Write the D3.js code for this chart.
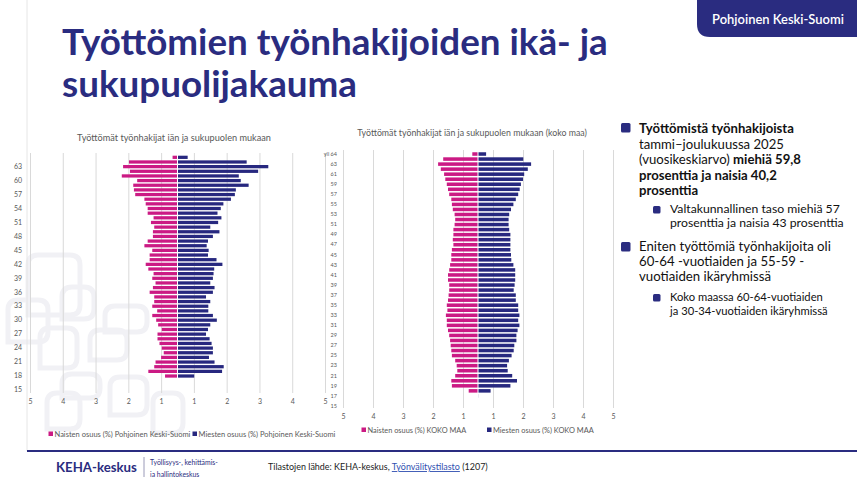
<!DOCTYPE html>
<html>
<head>
<meta charset="utf-8">
<script src="https://cdn.jsdelivr.net/npm/d3@7"></script>
<style>
html, body { margin: 0; padding: 0; background: #fff; }
svg { display: block; font-family: Lato, "Open Sans", sans-serif; }
</style>
</head>
<body>
<svg id="slide" width="857" height="477"></svg>
<script>
// age groups, bottom -> top
var ages = ["15","16","17","18","19","20","21","22","23","24","25","26","27","28","29",
  "30","31","32","33","34","35","36","37","38","39","40","41","42","43","44",
  "45","46","47","48","49","50","51","52","53","54","55","56","57","58","59",
  "60","61","62","63","64","yli 64"];

// share (%) of all unemployed jobseekers, Pohjoinen Keski-Suomi
var naisetPKS = [0,0,0,0.38,0.89,0.71,0.67,0.50,0.42,0.48,0.55,0.61,0.61,0.48,0.59,
  0.65,0.77,0.62,0.77,0.71,0.71,0.85,0.75,0.67,0.77,0.73,0.89,0.97,0.85,0.85,
  0.77,1.01,0.91,0.75,0.75,0.71,0.81,0.73,0.91,0.91,0.97,1.01,1.29,1.33,1.35,
  1.23,1.70,1.45,1.66,1.48,0.15];
var miehetPKS = [0,0,0,0.51,1.36,1.41,1.13,0.96,1.08,1.08,1.04,0.98,0.87,0.93,1.00,
  1.20,1.08,0.94,0.94,1.00,0.87,1.08,1.13,1.00,1.08,1.10,1.12,1.37,1.19,0.93,
  0.95,0.89,0.93,1.08,1.28,1.00,1.24,1.34,1.22,1.32,1.40,1.63,1.75,1.78,2.17,
  1.93,1.87,2.46,2.77,2.11,0.31];

// share (%), koko maa
var naisetKoko = [0,0,0,0.31,0.87,0.89,0.76,0.69,0.71,0.76,0.87,0.89,0.91,0.93,0.96,
  1.00,1.04,1.04,1.07,1.02,1.04,1.00,0.98,0.96,0.96,1.00,1.00,0.96,0.93,0.89,
  0.89,0.87,0.82,0.84,0.82,0.82,0.78,0.76,0.78,0.84,0.87,0.89,0.96,1.00,1.04,
  1.09,1.13,1.24,1.33,1.16,0.19];
var miehetKoko = [0,0,0.02,0.42,1.08,1.30,1.14,0.99,0.97,1.03,1.12,1.19,1.21,1.28,1.28,
  1.32,1.38,1.34,1.38,1.34,1.34,1.26,1.26,1.19,1.22,1.24,1.24,1.24,1.18,1.11,
  1.10,1.08,1.08,1.08,1.08,1.04,1.02,1.02,1.04,1.10,1.18,1.26,1.34,1.39,1.43,
  1.50,1.54,1.66,1.77,1.51,0.27];

var gridValues = [-4.5,-3.5,-2.5,-1.5,-0.5,0.5,1.5,2.5,3.5,4.5];
var tickLabels = ["5","4","3","2","1","1","2","3","4","5"];

var NAVY = '#2a2c80', PINK = '#cb1a84', MEN = '#27287f', GREY = '#595959';

var svg = d3.select('#slide');
svg.append('rect').attr('width', 857).attr('height', 477).attr('fill', '#fff');

// shrink/grow font so the text gets the width it has on the slide
function fit(sel, w) {
  var fs = parseFloat(sel.style('font-size'));
  var len = sel.node().getComputedTextLength();
  if (len > 0) sel.style('font-size', (fs * w / len) + 'px');
  return sel;
}

//watermark shapes in the lower left
var leafs = [[28,255,52,60],[62,287,32,32],[40,328,37,40],[90,330,37,30],[105,306,42,26],
  [47,393,33,36],[110,377,37,38],[62,374,38,24],[153,393,30,40],[8,300,40,42]];
svg.append('g').selectAll('path').data(leafs).join('path')
  .attr('d', function(d) {
    var x = d[0], y = d[1], w = d[2], h = d[3], r = 10;
    return 'M' + x + ',' + (y + h) + 'V' + (y + r) + 'Q' + x + ',' + y + ' ' + (x + r) + ',' + y +
      'H' + (x + w - r) + 'Q' + (x + w) + ',' + y + ' ' + (x + w) + ',' + (y + r) +
      'V' + (y + h - r) + 'Q' + (x + w) + ',' + (y + h) + ' ' + (x + w - r) + ',' + (y + h) + 'Z';
  })
  .attr('fill', 'none').attr('stroke', '#f1f1f5').attr('stroke-width', 5);

// frame lines
svg.append('line').attr('x1', 27).attr('x2', 27).attr('y1', 0).attr('y2', 451)
  .attr('stroke', '#e6e6e6').attr('stroke-width', 1);
svg.append('line').attr('x1', 27).attr('x2', 857).attr('y1', 451).attr('y2', 451)
  .attr('stroke', NAVY).attr('stroke-width', 2);

// title
var t1 = svg.append('text').attr('x', 62).attr('y', 55).attr('fill', NAVY)
  .style('font-weight', 700).style('font-size', '34px').text('Työttömien työnhakijoiden ikä- ja');
fit(t1, 546);
svg.append('text').attr('x', 62).attr('y', 97).attr('fill', NAVY)
  .style('font-weight', 700).style('font-size', t1.style('font-size')).text('sukupuolijakauma');

// region badge
svg.append('path').attr('d', 'M697,0H857V37H710Q697,37 697,24Z').attr('fill', NAVY);
fit(svg.append('text').attr('x', 778).attr('y', 24).attr('text-anchor', 'middle').attr('fill', '#fff')
  .style('font-weight', 600).style('font-size', '12px').text('Pohjoinen Keski-Suomi'), 132);

function pyramid(o) {
  var g = svg.append('g');
  var x = d3.scaleLinear().domain([-4.5, 4.5]).range([o.x0, o.x1]);
  var y = d3.scaleBand().domain(ages).range([o.yBottom, o.yTop]).paddingInner(0.3).paddingOuter(0.15);

  g.append('g').attr('transform', 'translate(0,' + o.gridBottom + ')')
    .call(d3.axisBottom(x).tickValues(gridValues).tickFormat(function(d, i) { return tickLabels[i]; })
      .tickSize(-(o.gridBottom - o.gridTop)).tickPadding(o.tickPad))
    .call(function(a) {
      a.select('.domain').remove();
      a.selectAll('line').attr('stroke', '#d9d9d9');
      a.selectAll('text').attr('fill', GREY).style('font-size', '7px').style('font-family', 'Lato, sans-serif');
    });

  g.append('g').attr('transform', 'translate(' + o.labelX + ',0)')
    .call(d3.axisLeft(y).tickValues(ages.filter(function(d, i) { return i % o.every == 0; }))
      .tickSize(0).tickPadding(0))
    .call(function(a) {
      a.select('.domain').remove();
      a.selectAll('text').attr('fill', GREY).style('font-size', o.labelSize + 'px').style('font-family', 'Lato, sans-serif');
    });

  g.append('g').selectAll('rect').data(o.women).join('rect')
    .attr('x', function(d) { return x(-d); })
    .attr('width', function(d) { return Math.max(0, x(0) - x(-d) - 0.5); })
    .attr('y', function(d, i) { return y(ages[i]); })
    .attr('height', y.bandwidth())
    .attr('fill', PINK);
  g.append('g').selectAll('rect').data(o.men).join('rect')
    .attr('x', x(0) + 0.5)
    .attr('width', function(d) { return Math.max(0, x(d) - x(0) - 0.5); })
    .attr('y', function(d, i) { return y(ages[i]); })
    .attr('height', y.bandwidth())
    .attr('fill', MEN);

  fit(g.append('text').attr('x', o.titleX).attr('y', o.titleY).attr('text-anchor', 'middle')
    .attr('fill', GREY).style('font-size', '8.5px').text(o.title), o.titleW);

  o.legend.forEach(function(l) {
    g.append('rect').attr('x', l.x).attr('y', o.legendY - 2.5).attr('width', 4.5).attr('height', 4.5).attr('fill', l.c);
    fit(g.append('text').attr('x', l.x + 6).attr('y', o.legendY + 2.5).attr('fill', GREY)
      .style('font-size', '7.5px').text(l.t), l.w);
  });
}

pyramid({
  x0: 30, x1: 325, yBottom: 392.3, yTop: 155, gridTop: 153, gridBottom: 393, tickPad: 6,
  labelX: 22, every: 3, labelSize: 7,
  women: naisetPKS, men: miehetPKS,
  title: 'Työttömät työnhakijat iän ja sukupuolen mukaan', titleX: 174, titleY: 140.5, titleW: 194,
  legendY: 434,
  legend: [{x: 48.5, c: PINK, t: 'Naisten osuus (%) Pohjoinen Keski-Suomi', w: 136},
           {x: 192.5, c: MEN, t: 'Miesten osuus (%) Pohjoinen Keski-Suomi', w: 137}]
});

pyramid({
  x0: 343, x1: 613, yBottom: 408.5, yTop: 151.5, gridTop: 150, gridBottom: 408, tickPad: 6,
  labelX: 337, every: 2, labelSize: 5.5,
  women: naisetKoko, men: miehetKoko,
  title: 'Työttömät työnhakijat iän ja sukupuolen mukaan (koko maa)', titleX: 472, titleY: 136, titleW: 230,
  legendY: 430,
  legend: [{x: 361.5, c: PINK, t: 'Naisten osuus (%)  KOKO MAA', w: 99},
           {x: 487, c: MEN, t: 'Miesten osuus (%)  KOKO MAA', w: 101}]
});

// bullet text on the right
var notes = svg.append('g').attr('fill', '#111');
function bullet(x, y, s) {
  notes.append('rect').attr('x', x).attr('y', y).attr('width', s).attr('height', s).attr('rx', 1.5).attr('fill', NAVY);
}
bullet(621, 123, 9.5);
var l1 = notes.append('text').attr('x', 639).attr('y', 133).style('font-size', '14px').style('font-weight', 700)
  .text('Työttömistä työnhakijoista');
fit(l1, 155);
var fs1 = l1.style('font-size');
notes.append('text').attr('x', 639).attr('y', 148.5).style('font-size', fs1).text('tammi–joulukuussa 2025');
var l3 = notes.append('text').attr('x', 639).attr('y', 164).style('font-size', fs1);
l3.append('tspan').text('(vuosikeskiarvo) ');
l3.append('tspan').style('font-weight', 700).text('miehiä 59,8');
notes.append('text').attr('x', 639).attr('y', 179.5).style('font-size', fs1).style('font-weight', 700).text('prosenttia ja naisia 40,2');
notes.append('text').attr('x', 639).attr('y', 195).style('font-size', fs1).style('font-weight', 700).text('prosenttia');

bullet(653, 206, 7.5);
var s1 = notes.append('text').attr('x', 670).attr('y', 212.5).style('font-size', '11px').text('Valtakunnallinen taso miehiä 57');
fit(s1, 170);
notes.append('text').attr('x', 670).attr('y', 226.5).style('font-size', s1.style('font-size')).text('prosenttia ja naisia 43 prosenttia');

bullet(621, 242, 9.5);
var e1 = notes.append('text').attr('x', 639).attr('y', 251).style('font-size', '14px').text('Eniten työttömiä työnhakijoita oli');
fit(e1, 192);
notes.append('text').attr('x', 639).attr('y', 266).style('font-size', e1.style('font-size')).text('60-64 -vuotiaiden ja 55-59 -');
notes.append('text').attr('x', 639).attr('y', 281).style('font-size', e1.style('font-size')).text('vuotiaiden ikäryhmissä');

bullet(653, 294, 7.5);
var k1 = notes.append('text').attr('x', 670).attr('y', 301).style('font-size', '11px').text('Koko maassa 60-64-vuotiaiden');
fit(k1, 153);
notes.append('text').attr('x', 670).attr('y', 314.5).style('font-size', k1.style('font-size')).text('ja 30-34-vuotiaiden ikäryhmissä');

// footer
fit(svg.append('text').attr('x', 56).attr('y', 472).attr('fill', NAVY).style('font-weight', 700)
  .style('font-size', '13px').text('KEHA-keskus'), 81);
svg.append('line').attr('x1', 144).attr('x2', 144).attr('y1', 457).attr('y2', 477).attr('stroke', '#9a9ab8');
var f1 = svg.append('text').attr('x', 150).attr('y', 465).attr('fill', NAVY).style('font-size', '8.5px')
  .text('Työllisyys-, kehittämis-');
fit(f1, 68);
svg.append('text').attr('x', 150).attr('y', 476.5).attr('fill', NAVY).style('font-size', f1.style('font-size')).text('ja hallintokeskus');
var src = svg.append('text').attr('x', 268).attr('y', 470).attr('fill', '#222').style('font-size', '8.5px');
src.append('tspan').text('Tilastojen lähde: KEHA-keskus, ');
src.append('tspan').attr('fill', '#2f4fb0').style('text-decoration', 'underline').text('Työnvälitystilasto');
src.append('tspan').text(' (1207)');
fit(src, 220);
</script>
</body>
</html>
